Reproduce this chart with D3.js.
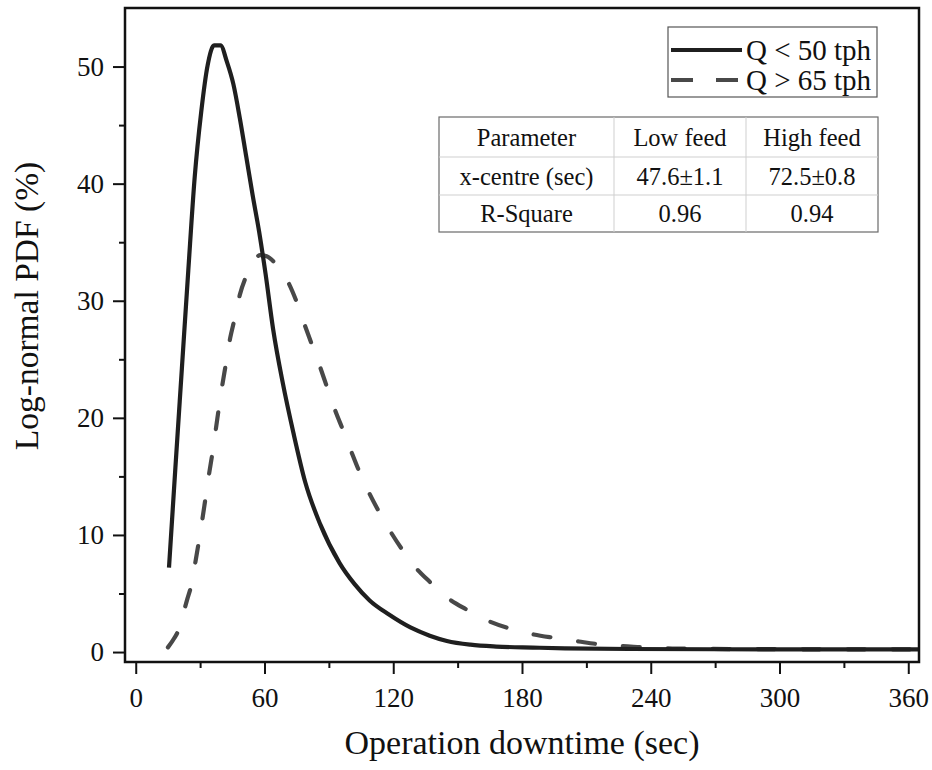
<!DOCTYPE html>
<html>
<head>
<meta charset="utf-8">
<script src="https://cdn.jsdelivr.net/npm/d3@7"></script>
<style>
  body { margin: 0; background: #fff; }
  svg { display: block; }
  text { font-family: "Liberation Serif", "Times New Roman", serif; fill: #111; }
</style>
</head>
<body>
<svg id="chart" width="932" height="770"></svg>
<script>
// Log-normal fits of operation downtime, low feed (Q < 50 tph)
const lowFeedTime = [15.5, 18.5, 21.5, 24.5, 27.5, 30.5, 33.5, 36.5, 39.5, 42.5, 45.5, 48.5, 51.5,
  54.5, 57.5, 60.5, 64, 68.5, 73.5, 79, 86, 95, 102, 109, 118, 128, 137, 145, 156, 168, 185, 200,
  230, 270, 320, 365];
const lowFeedPdf = [7.2, 15.8, 24.2, 32.6, 40.6, 46.1, 50.1, 51.8, 51.8, 50.4, 48.5, 45.6, 42.3,
  39.0, 35.9, 32.3, 27.6, 23.0, 18.7, 14.5, 10.9, 7.6, 5.8, 4.4, 3.2, 2.1, 1.4, 0.95, 0.63, 0.47, 0.38, 0.32,
  0.26, 0.24, 0.23, 0.22];

// High feed (Q > 65 tph)
const highFeedTime = [15, 18, 20, 22, 24, 26, 28, 30, 32, 34, 36, 38, 40, 42, 44, 46, 48.5, 51.5,
  54.5, 58, 61, 64.5, 68, 71, 75, 79, 82, 86, 89, 93, 96.5, 100.5, 104, 109, 113, 119, 124, 130.5,
  137, 145.5, 154.5, 165, 174.5, 185.5, 195.5, 206.5, 216.5, 232, 250, 300, 365];
const highFeedPdf = [0.4, 1.2, 1.9, 3.2, 4.5, 5.8, 7.9, 10.1, 12.5, 15.0, 17.3, 19.9, 22.4, 24.6,
  26.8, 28.4, 30.5, 32.1, 33.2, 33.9, 33.8, 33.3, 32.5, 31.6, 29.9, 27.8, 26.3, 24.3, 22.7, 20.6,
  19.0, 17.1, 15.5, 13.5, 12.1, 10.2, 8.8, 7.2, 6.0, 4.6, 3.6, 2.6, 2.0, 1.5, 1.2, 0.9, 0.65, 0.45,
  0.3, 0.24, 0.22];

const seriesNames = ["Q < 50 tph", "Q > 65 tph"];
const xMajorTicks = [0, 60, 120, 180, 240, 300, 360];
const xMinorTicks = [30, 90, 150, 210, 270, 330];
const yMajorTicks = [0, 10, 20, 30, 40, 50];
const yMinorTicks = [5, 15, 25, 35, 45];
const tableHeader = ["Parameter", "Low feed", "High feed"];
const tableRows = [
  ["x-centre (sec)", "47.6\u00b11.1", "72.5\u00b10.8"],
  ["R-Square", "0.96", "0.94"]
];

const svg = d3.select("#chart");
const plot = { left: 125, top: 8, right: 919, bottom: 662 };

const x = d3.scaleLinear().domain([-5, 365]).range([plot.left, plot.right]);
const y = d3.scaleLinear().domain([-0.85, 55]).range([plot.bottom, plot.top]);

const series = [
  { name: seriesNames[0], pts: lowFeedTime.map((t, i) => [t, lowFeedPdf[i]]), color: "#1f1f1f", dash: null },
  { name: seriesNames[1], pts: highFeedTime.map((t, i) => [t, highFeedPdf[i]]), color: "#484848", dash: "17 28" }
];

const line = d3.line().x(d => x(d[0])).y(d => y(d[1])).curve(d3.curveMonotoneX);

svg.append("defs").append("clipPath").attr("id", "plotClip")
  .append("rect").attr("x", plot.left).attr("y", plot.top)
  .attr("width", plot.right - plot.left).attr("height", plot.bottom - plot.top);

const curves = svg.append("g").attr("clip-path", "url(#plotClip)");
// draw dashed first so solid sits on top where they overlap
[series[1], series[0]].forEach(s => {
  curves.append("path")
    .datum(s.pts)
    .attr("d", line)
    .attr("fill", "none")
    .attr("stroke", s.color)
    .attr("stroke-width", 4.2)
    .attr("stroke-linejoin", "round")
    .attr("stroke-linecap", s.dash ? "round" : "butt")
    .attr("stroke-dasharray", s.dash);
});

// axes: major and minor ticks
function styleAxis(g) {
  g.select(".domain").remove();
  g.selectAll(".tick line").attr("stroke", "#111").attr("stroke-width", 2);
  g.selectAll(".tick text").attr("font-size", 27).attr("fill", "#111")
    .style("font-family", '"Liberation Serif", "Times New Roman", serif');
}

svg.append("g").attr("transform", `translate(0,${plot.bottom})`)
  .call(d3.axisBottom(x).tickValues(xMajorTicks).tickSize(12).tickPadding(14).tickFormat(d3.format("d")))
  .call(styleAxis);
svg.append("g").attr("transform", `translate(0,${plot.bottom})`)
  .call(d3.axisBottom(x).tickValues(xMinorTicks).tickSize(6).tickFormat(""))
  .call(styleAxis);
svg.append("g").attr("transform", `translate(${plot.left},0)`)
  .call(d3.axisLeft(y).tickValues(yMajorTicks).tickSize(12).tickPadding(9).tickFormat(d3.format("d")))
  .call(styleAxis);
svg.append("g").attr("transform", `translate(${plot.left},0)`)
  .call(d3.axisLeft(y).tickValues(yMinorTicks).tickSize(6).tickFormat(""))
  .call(styleAxis);

// frame
svg.append("rect")
  .attr("x", plot.left).attr("y", plot.top)
  .attr("width", plot.right - plot.left).attr("height", plot.bottom - plot.top)
  .attr("fill", "none").attr("stroke", "#111").attr("stroke-width", 2.5);

// axis titles
svg.append("text")
  .attr("x", (plot.left + plot.right) / 2).attr("y", 754)
  .attr("text-anchor", "middle").attr("font-size", 34)
  .text("Operation downtime (sec)");
svg.append("text")
  .attr("transform", "translate(38,306) rotate(-90)")
  .attr("text-anchor", "middle").attr("font-size", 33.5)
  .text("Log-normal PDF (%)");

// legend
const legend = svg.append("g");
legend.append("rect").attr("x", 668).attr("y", 27).attr("width", 209).attr("height", 70)
  .attr("fill", "#fff").attr("stroke", "#555").attr("stroke-width", 1.2);
series.forEach((s, i) => {
  const ly = 50 + i * 30;
  legend.append("line").attr("x1", 671).attr("x2", 742).attr("y1", ly).attr("y2", ly)
    .attr("stroke", s.color).attr("stroke-width", 4.2)
    .attr("stroke-dasharray", s.dash ? "22 23" : null);
  legend.append("text").attr("x", 746).attr("y", ly).attr("dy", "0.35em")
    .attr("font-size", 29).text(s.name);
});

// parameter table
const table = svg.append("g");
const tLeft = 439, tRight = 878, tTop = 117, tBottom = 232;
const colEdges = [tLeft, 614, 746, tRight];
const rowEdges = [tTop, 157, 195, tBottom];
table.append("rect").attr("x", tLeft).attr("y", tTop)
  .attr("width", tRight - tLeft).attr("height", tBottom - tTop)
  .attr("fill", "#fff").attr("stroke", "#6a6a6a").attr("stroke-width", 1.2);
[1, 2].forEach(i => {
  table.append("line").attr("x1", tLeft).attr("x2", tRight)
    .attr("y1", rowEdges[i]).attr("y2", rowEdges[i])
    .attr("stroke", "#cfcfcf").attr("stroke-width", 1);
  table.append("line").attr("y1", tTop).attr("y2", tBottom)
    .attr("x1", colEdges[i]).attr("x2", colEdges[i])
    .attr("stroke", "#cfcfcf").attr("stroke-width", 1);
});
[tableHeader, ...tableRows].forEach((row, r) => {
  row.forEach((cell, c) => {
    table.append("text")
      .attr("x", (colEdges[c] + colEdges[c + 1]) / 2)
      .attr("y", (rowEdges[r] + rowEdges[r + 1]) / 2)
      .attr("dy", "0.35em").attr("text-anchor", "middle")
      .attr("font-size", 24.5).attr("fill", "#222")
      .text(cell);
  });
});
</script>
</body>
</html>
